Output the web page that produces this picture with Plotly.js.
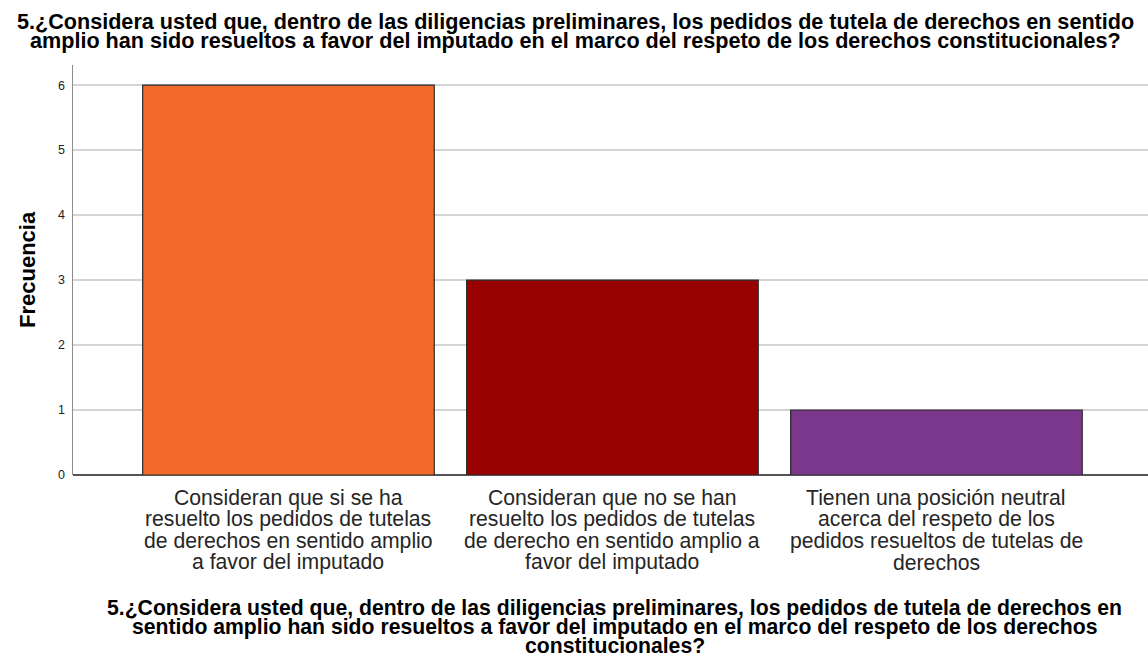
<!DOCTYPE html>
<html>
<head>
<meta charset="utf-8">
<script src="https://cdn.plot.ly/plotly-3.0.1.min.js"></script>
<style>html,body{margin:0;padding:0;background:#fff}#chart{width:1148px;height:659px}</style>
</head>
<body>
<div id="chart"></div>
<script>
// ---- data ----
const categoryLines = [
  ["Consideran que si se ha", "resuelto los pedidos de tutelas", "de derechos en sentido amplio", "a favor del imputado"],
  ["Consideran que no se han", "resuelto los pedidos de tutelas", "de derecho en sentido amplio a", "favor del imputado"],
  ["Tienen una posición neutral", "acerca del respeto de los", "pedidos resueltos de tutelas de", "derechos"]
];
const frecuencia = [6, 3, 1];
const barColors = ["#F26A2C", "#990000", "#7A378C"];
const yTicks = [0, 1, 2, 3, 4, 5, 6];
const titleLines = [
  "5.¿Considera usted que, dentro de las diligencias preliminares, los pedidos de tutela de derechos en sentido",
  "amplio han sido resueltos a favor del imputado en el marco del respeto de los derechos constitucionales?"
];
const xTitleLines = [
  "5.¿Considera usted que, dentro de las diligencias preliminares, los pedidos de tutela de derechos en",
  "sentido amplio han sido resueltos a favor del imputado en el marco del respeto de los derechos",
  "constitucionales?"
];
const yTitle = "Frecuencia";

// ---- layout geometry ----
const W = 1148, H = 659;
const M = {l: 73, r: 0, t: 65, b: 184};
const plotH = H - M.t - M.b, plotW = W - M.l - M.r;
const py = p => (H - M.b - p) / plotH;   // pixel row -> paper y
const px = p => (p - M.l) / plotW;       // pixel col -> paper x

const FONT = "Liberation Sans, Arial, sans-serif";
const annotations = [];

titleLines.forEach((t, i) => annotations.push({
  text: "<b>" + t + "</b>", xref: "paper", yref: "paper",
  x: px(575), y: py(21.5 + i * 19.5), xanchor: "center", yanchor: "middle",
  showarrow: false, borderpad: 0, font: {family: FONT, size: 21.6, color: "#000"}
}));

categoryLines.forEach((lines, c) => lines.forEach((t, i) => annotations.push({
  text: t, xref: "x", yref: "paper",
  x: c, y: py(497.5 + i * 21.6), xanchor: "center", yanchor: "middle",
  showarrow: false, borderpad: 0, font: {family: FONT, size: 21.2, color: "#262626"}
})));

xTitleLines.forEach((t, i) => annotations.push({
  text: "<b>" + t + "</b>", xref: "paper", yref: "paper",
  x: px(614.5), y: py(608 + i * 18.5), xanchor: "center", yanchor: "middle",
  showarrow: false, borderpad: 0, font: {family: FONT, size: 21.2, color: "#000"}
}));

annotations.push({
  text: "<b>" + yTitle + "</b>", xref: "paper", yref: "paper",
  x: px(27), y: py(270), xanchor: "center", yanchor: "middle", textangle: -90,
  showarrow: false, font: {family: FONT, size: 22, color: "#000"}
});

const trace = {
  type: "bar",
  x: [0, 1, 2],
  y: frecuencia,
  width: 0.9,
  marker: {color: barColors, line: {color: "#2b2b2b", width: 1.2}},
  hoverinfo: "none"
};

const layout = {
  width: W, height: H,
  margin: M,
  paper_bgcolor: "#fff", plot_bgcolor: "#fff",
  showlegend: false,
  xaxis: {
    range: [-0.665, 2.653],
    showticklabels: false,
    ticks: "", showgrid: false, zeroline: false, showline: false
  },
  yaxis: {
    range: [0, 6.31],
    tickmode: "array",
    tickvals: yTicks,
    ticks: "", ticklabelstandoff: 4,
    showgrid: true, gridcolor: "#d4d4d4", gridwidth: 2,
    zeroline: true, zerolinecolor: "#555", zerolinewidth: 1.5,
    showline: true, linecolor: "#8c8c8c", linewidth: 1.5,
    tickfont: {family: FONT, size: 12.5, color: "#222"}
  },
  annotations: annotations
};

Plotly.newPlot("chart", [trace], layout, {displayModeBar: false, staticPlot: true});
</script>
</body>
</html>
